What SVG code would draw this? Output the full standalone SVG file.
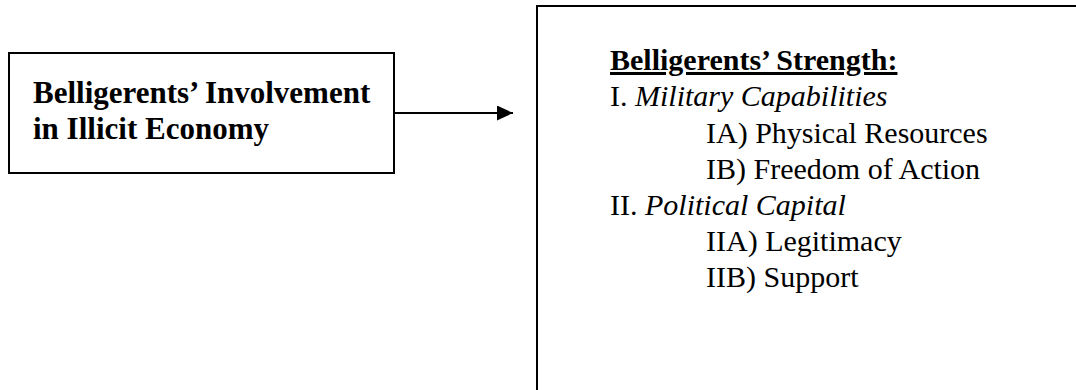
<svg xmlns="http://www.w3.org/2000/svg" width="1076" height="390" viewBox="0 0 1076 390">
<style>
.box{fill:none;stroke:#000;stroke-width:2}
.t{font-family:"Liberation Serif","Times New Roman",serif;font-size:30px;fill:#000}
.b{font-weight:bold}
.l{font-size:31px}
.i{font-style:italic}
.u{text-decoration:underline}
</style>
<defs>
<marker id="arr" markerWidth="16" markerHeight="15" refX="16" refY="7.5" orient="auto" markerUnits="userSpaceOnUse">
<path d="M0,0 L16,7.5 L0,15 Z" fill="#000"/>
</marker>
</defs>
<rect width="1076" height="390" fill="#fff"/>
<g id="connectors">
<line x1="394" y1="113" x2="513" y2="113" stroke="#000" stroke-width="2" marker-end="url(#arr)"/>
</g>
<g id="node-involvement">
<rect class="box" x="9" y="53" width="385" height="120"/>
<text class="t b l" x="33" y="103">Belligerents’ Involvement</text>
<text class="t b l" x="33" y="139">in Illicit Economy</text>
</g>
<g id="node-strength">
<rect class="box" x="537" y="6" width="600" height="400"/>
<text class="t b u" x="610" y="70">Belligerents’ Strength:</text>
<text class="t" x="610" y="106">I. <tspan class="i">Military Capabilities</tspan></text>
<text class="t" x="706" y="143">IA) Physical Resources</text>
<text class="t" x="706" y="179">IB) Freedom of Action</text>
<text class="t" x="610" y="215">II. <tspan class="i">Political Capital</tspan></text>
<text class="t" x="706" y="251">IIA) Legitimacy</text>
<text class="t" x="706" y="287">IIB) Support</text>
</g>
</svg>
